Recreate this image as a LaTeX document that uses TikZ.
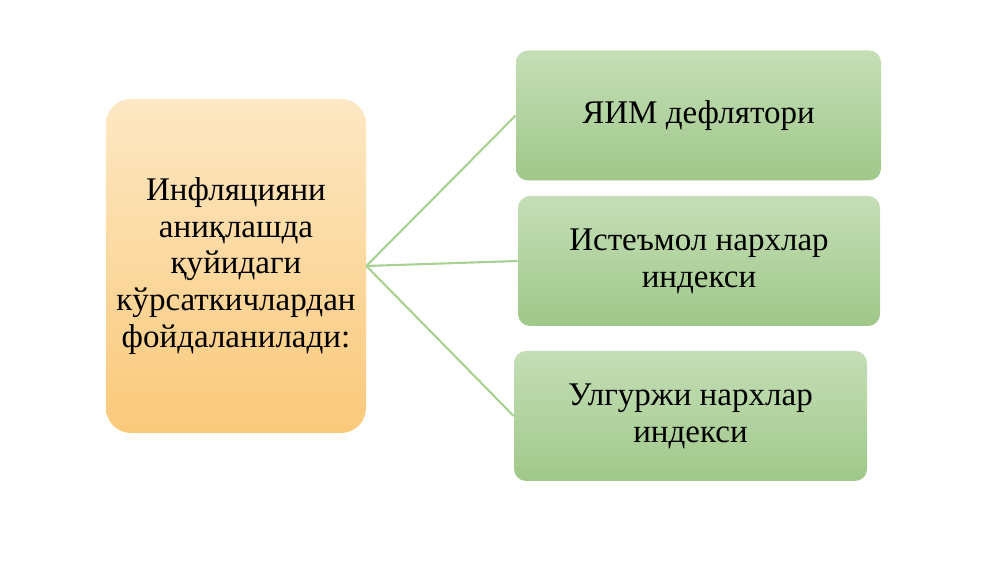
\documentclass[tikz,border=0pt]{standalone}
\usepackage{fontspec}
\setmainfont{Liberation Serif}
\usetikzlibrary{positioning}

\definecolor{sandtop}{RGB}{253,232,196}
\definecolor{sandbot}{RGB}{250,201,122}
\definecolor{leaftop}{RGB}{197,222,182}
\definecolor{leafbot}{RGB}{160,200,138}
\definecolor{twig}{RGB}{168,210,146}

\tikzset{
    mainbox/.style={rounded corners=0.5cm, top color=sandtop, bottom color=sandbot,
        minimum width=5.2cm, minimum height=6.68cm, align=center, inner sep=0pt},
    leafbox/.style={rounded corners=0.24cm, top color=leaftop, bottom color=leafbot,
        minimum height=2.6cm, align=center, inner sep=0pt},
    twigline/.style={twig, line width=1.2pt}
}

\begin{document}
\begin{tikzpicture}
    \useasboundingbox (0,0) rectangle (20,11.24);
    \fontsize{18.8}{21}\selectfont

    % Left block
    \node[mainbox] (infl) at (4.72, 5.92) {Инфляцияни\\ аниқлашда\\ қуйидаги\\ кўрсаткичлардан\\ фойдаланилади:};

    % Right blocks
    \node[leafbox, minimum width=7.3cm] (yim) at (13.97, 8.93) {ЯИМ дефлятори};
    \node[leafbox, minimum width=7.24cm] (ist) at (13.98, 6.02) {Истеъмол нархлар\\ индекси};
    \node[leafbox, minimum width=7.06cm] (ulg) at (13.81, 2.92) {Улгуржи нархлар\\ индекси};

    % Connectors
    \draw[twigline] (infl.east) -- (yim.west);
    \draw[twigline] (infl.east) -- (ist.west);
    \draw[twigline] (infl.east) -- (ulg.west);
\end{tikzpicture}
\end{document}
